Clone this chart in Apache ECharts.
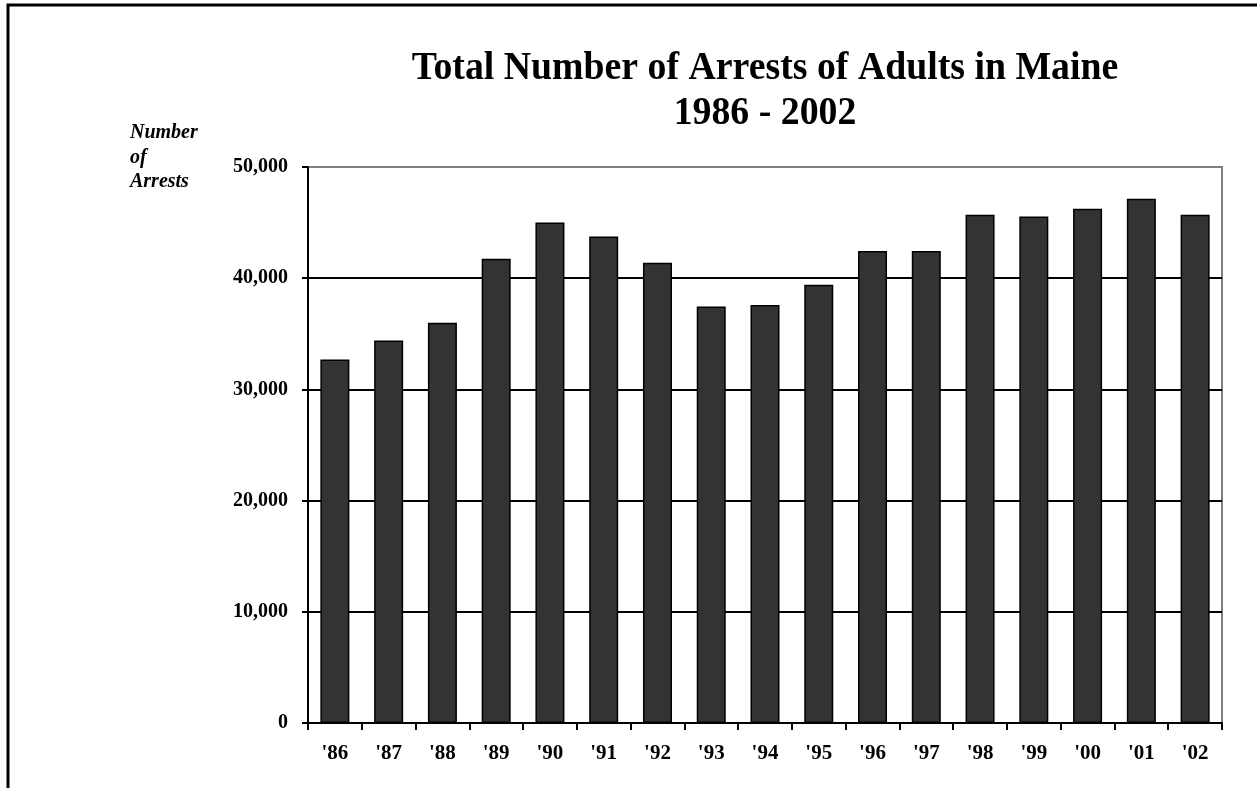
<!DOCTYPE html>
<html><head><meta charset="utf-8">
<script src="https://cdn.jsdelivr.net/npm/echarts@6/dist/echarts.min.js"></script>
<style>html,body{margin:0;padding:0;background:#fff}#c{width:1257px;height:788px}</style>
</head><body><div id="c"></div>
<script>
const categories = ["'86","'87","'88","'89","'90","'91","'92","'93","'94","'95","'96","'97","'98","'99","'00","'01","'02"];
const arrests = [32700, 34400, 36000, 41750, 45000, 43750, 41400, 37450, 37600, 39400, 42450, 42450, 45700, 45550, 46250, 47150, 45700];
const titleLines = ["Total Number of Arrests of Adults in Maine", "1986 - 2002"];
const axisNameLines = ["Number", "of", "Arrests"];

const chart = echarts.init(document.getElementById('c'), null, {renderer: 'canvas'});
const serif = '"Liberation Serif", "Times New Roman", serif';
chart.setOption({
  animation: false,
  backgroundColor: '#fff',
  title: [
    {
      text: axisNameLines.join('\n'),
      left: 130, top: 121, padding: 0,
      textStyle: {fontFamily: serif, fontWeight: 'bold', fontStyle: 'italic', fontSize: 20, lineHeight: 24.5, color: '#000'}
    }
  ],
  graphic: [
    {
      type: 'rect', silent: true,
      shape: {x: 8, y: 5, width: 1400, height: 1000},
      style: {fill: 'none', stroke: '#000', lineWidth: 3}
    },
    {
      type: 'text', silent: true, x: 765, y: 68.5, scaleX: 1.05, scaleY: 1.14,
      style: {text: titleLines[0], fill: '#000', font: 'bold 36px ' + serif, align: 'center', verticalAlign: 'middle'}
    },
    {
      type: 'text', silent: true, x: 765, y: 113, scaleX: 1.05, scaleY: 1.14,
      style: {text: titleLines[1], fill: '#000', font: 'bold 36px ' + serif, align: 'center', verticalAlign: 'middle'}
    }
  ],
  grid: {left: 308, right: 35, top: 167, bottom: 65, show: true, borderColor: '#808080', borderWidth: 2, backgroundColor: 'transparent'},
  xAxis: {
    type: 'category', data: categories,
    axisLine: {lineStyle: {color: '#000', width: 2}},
    axisTick: {show: true, length: 7, lineStyle: {color: '#000', width: 2}},
    axisLabel: {fontFamily: serif, fontWeight: 'bold', fontSize: 21, color: '#000', margin: 20}
  },
  yAxis: {
    type: 'value', min: 0, max: 50000, interval: 10000,
    axisLine: {show: true, lineStyle: {color: '#000', width: 2}},
    axisTick: {show: true, length: 6, lineStyle: {color: '#000', width: 2}},
    axisLabel: {fontFamily: serif, fontWeight: 'bold', fontSize: 20, color: '#000', margin: 20,
      formatter: v => v.toLocaleString('en-US')},
    splitLine: {show: true, lineStyle: {color: ['#000','#000','#000','#000','#000','#808080'], width: 2}}
  },
  series: [{
    type: 'bar', data: arrests, barWidth: 29,
    itemStyle: {color: '#333333', borderColor: '#000', borderWidth: 1.5}
  }]
});
</script></body></html>
